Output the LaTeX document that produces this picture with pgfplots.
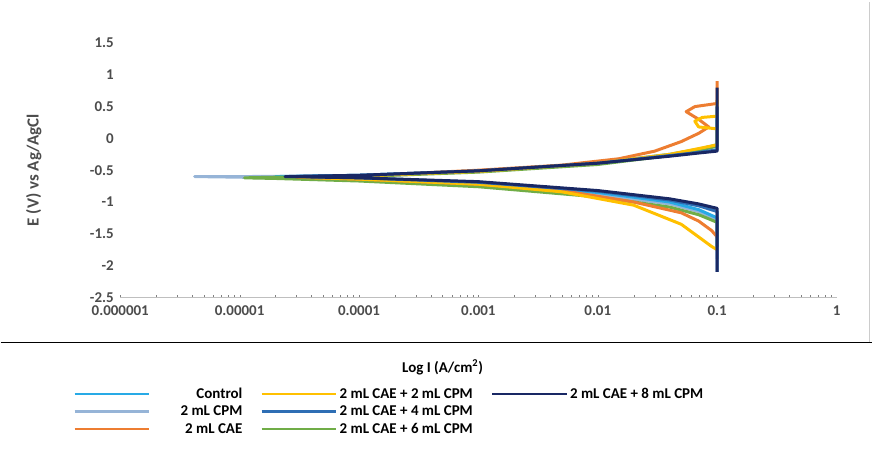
\documentclass[border=0pt]{standalone}
\usepackage{pgfplots}
\pgfplotsset{compat=1.18}
\usepackage{fontspec}
\setmainfont{Carlito}
\definecolor{cCtrl}{RGB}{40,170,230}
\definecolor{cCPM}{RGB}{150,180,215}
\definecolor{cCAE}{RGB}{237,125,49}
\definecolor{cY}{RGB}{255,192,0}
\definecolor{cB}{RGB}{46,110,180}
\definecolor{cG}{RGB}{112,173,71}
\definecolor{cN}{RGB}{25,40,100}
\begin{document}
\begin{tikzpicture}
\begin{axis}[
  scale only axis, width=718pt, height=255pt,
  xmode=log, xmin=1e-6, xmax=1, ymin=-2.5, ymax=1.5,
  axis line style={draw=none}, axis x line*=bottom, axis y line*=left,
  clip=false,
  xtick={1e-6,1e-5,1e-4,1e-3,1e-2,1e-1,1},
  xticklabels={0.000001,0.00001,0.0001,0.001,0.01,0.1,1},
  minor xtick={},
  ytick={-2.5,-2,-1.5,-1,-0.5,0,0.5,1,1.5},
  yticklabels={-2.5,-2,-1.5,-1,-0.5,0,0.5,1,1.5},
  major tick length=0pt,
  tick label style={font=\bfseries\fontsize{15}{17}\selectfont, text=black!70},
  xticklabel style={yshift=-5pt},
  yticklabel style={xshift=-3pt},
  ylabel={E (V) vs Ag/AgCl},
  ylabel style={font=\bfseries\fontsize{17}{19}\selectfont, at={(rel axis cs:-0.105,0.5)}, text=black!70},
  xlabel={Log I (A/cm\textsuperscript{2})},
  xlabel style={font=\bfseries\fontsize{15}{17}\selectfont, at={(rel axis cs:0.45,-0.275)}, anchor=center},
  legend columns=3,
  legend style={draw=none, at={(rel axis cs:-0.07,-0.34)}, anchor=north west,
    font=\bfseries\fontsize{15}{17}\selectfont,
    /tikz/every even column/.append style={column sep=16pt},
    row sep=2pt},
  legend cell align=left,
  legend image code/.code={\draw[#1,line width=2.5pt] (0pt,0pt) -- (75pt,0pt);},
  every axis plot/.append style={line width=3pt, line join=round},
]
\draw[black!25] (rel axis cs:0,0) -- (rel axis cs:1,0);
\draw[black, line width=1.2pt] (rel axis cs:-0.167,-0.176) -- (rel axis cs:1.05,-0.176);
\draw[black!20] (rel axis cs:1.045,-0.176) -- (rel axis cs:1.045,1.16);
\path (rel axis cs:-0.167,-0.671) rectangle (rel axis cs:1.049,1.169);
% 2 mL CPM (grey-blue)
\addplot[cCPM, forget plot] coordinates {(0.1,-1.9)(0.1,-1.3)(0.07,-1.15)(0.04,-1.03)(0.01,-0.88)(0.001,-0.72)(0.0001,-0.65)(1e-5,-0.61)(4.2e-6,-0.6)(1e-5,-0.6)(0.0001,-0.59)(0.001,-0.52)(0.01,-0.4)(0.04,-0.26)(0.07,-0.18)(0.1,-0.12)(0.1,0.6)};
% Control
\addplot[cCtrl, forget plot] coordinates {(0.1,-1.7)(0.1,-1.25)(0.07,-1.12)(0.04,-1.0)(0.01,-0.85)(0.001,-0.7)(0.0001,-0.63)(2e-5,-0.6)(0.0001,-0.58)(0.001,-0.51)(0.01,-0.39)(0.04,-0.25)(0.07,-0.17)(0.1,-0.1)(0.1,0.5)};
% Green
\addplot[cG, forget plot] coordinates {(0.1,-1.7)(0.1,-1.32)(0.07,-1.2)(0.04,-1.08)(0.01,-0.92)(0.001,-0.76)(0.0001,-0.67)(2e-5,-0.63)(1.1e-5,-0.62)(2e-5,-0.61)(0.0001,-0.6)(0.001,-0.53)(0.01,-0.41)(0.04,-0.27)(0.07,-0.19)(0.1,-0.12)(0.1,0.3)};
% Orange CAE
\addplot[cCAE, forget plot] coordinates {(0.1,-1.55)(0.09,-1.45)(0.07,-1.3)(0.05,-1.17)(0.02,-1.0)(0.005,-0.82)(0.001,-0.72)(0.0001,-0.64)(3e-5,-0.61)(0.0001,-0.59)(0.001,-0.5)(0.005,-0.42)(0.015,-0.32)(0.03,-0.2)(0.05,-0.05)(0.07,0.08)(0.085,0.18)(0.07,0.3)(0.055,0.42)(0.065,0.5)(0.1,0.55)(0.1,0.9)};
% Yellow
\addplot[cY, forget plot] coordinates {(0.1,-1.75)(0.09,-1.7)(0.07,-1.55)(0.05,-1.35)(0.02,-1.05)(0.005,-0.84)(0.001,-0.72)(0.0001,-0.64)(3e-5,-0.61)(0.0001,-0.59)(0.001,-0.52)(0.01,-0.39)(0.04,-0.25)(0.07,-0.16)(0.1,-0.1)(0.1,0.15)(0.07,0.18)(0.065,0.27)(0.075,0.33)(0.1,0.35)(0.1,0.6)};
% Blue 2+4
\addplot[cB, forget plot] coordinates {(0.1,-2.1)(0.1,-1.15)(0.07,-1.06)(0.04,-0.97)(0.01,-0.83)(0.001,-0.69)(0.0001,-0.62)(3e-5,-0.6)(0.0001,-0.58)(0.001,-0.51)(0.01,-0.39)(0.04,-0.27)(0.07,-0.22)(0.1,-0.18)(0.1,0.5)};
% Navy 2+8
\addplot[cN, forget plot] coordinates {(0.1,-2.1)(0.1,-1.1)(0.07,-1.03)(0.04,-0.95)(0.01,-0.82)(0.001,-0.68)(0.0001,-0.62)(2.4e-5,-0.6)(0.0001,-0.58)(0.001,-0.51)(0.01,-0.39)(0.04,-0.28)(0.07,-0.23)(0.1,-0.2)(0.1,0.8)};
\addlegendimage{cCtrl}\addlegendentry{\makebox[90pt][r]{Control}}
\addlegendimage{cY}\addlegendentry{2 mL CAE + 2 mL CPM}
\addlegendimage{cN}\addlegendentry{2 mL CAE + 8 mL CPM}
\addlegendimage{cCPM}\addlegendentry{\makebox[90pt][r]{2 mL CPM}}
\addlegendimage{cB}\addlegendentry{2 mL CAE + 4 mL CPM}
\addlegendimage{empty legend}\addlegendentry{}
\addlegendimage{cCAE}\addlegendentry{\makebox[90pt][r]{2 mL CAE}}
\addlegendimage{cG}\addlegendentry{2 mL CAE + 6 mL CPM}
\end{axis}
\end{tikzpicture}
\end{document}
